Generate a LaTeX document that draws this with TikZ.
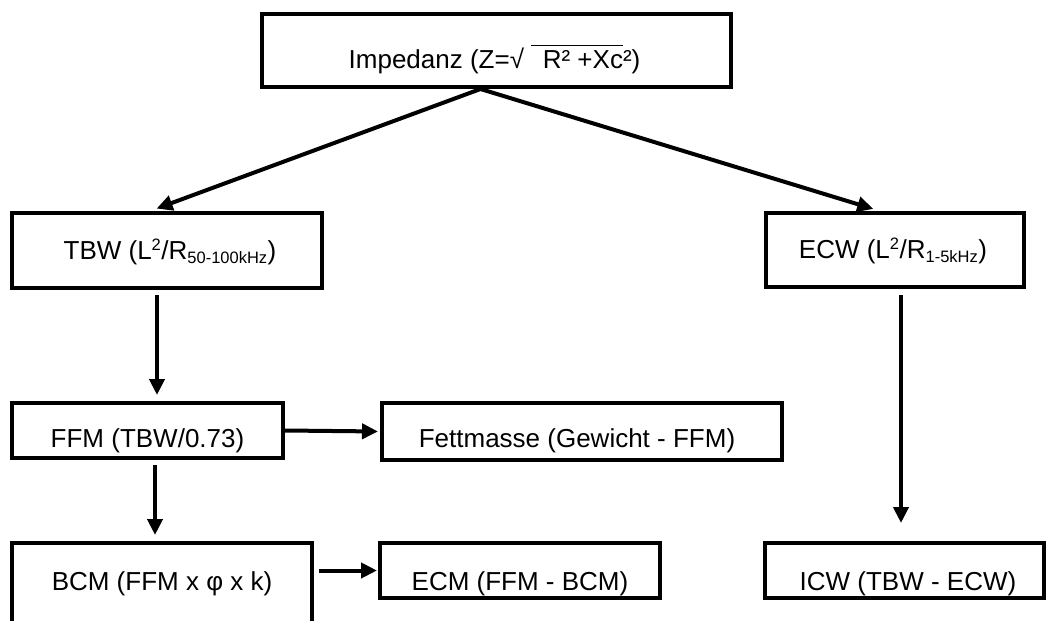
\documentclass[tikz,border=0pt]{standalone}
\usepackage{fontspec}
\setmainfont{Liberation Sans}
\usetikzlibrary{arrows.meta}

\newcommand{\wurzelstrich}[1]{\leavevmode\vbox{\hrule height 1.6pt\kern 4.5pt\hbox{#1}}}
\newcommand{\hoch}[1]{\textsuperscript{\fontsize{16.5}{18}\selectfont #1}}
\newcommand{\tief}[1]{\textsubscript{\fontsize{16.5}{18}\selectfont #1}}

\tikzset{
	box/.style={draw, line width=4pt, inner sep=0pt},
	txt/.style={font=\fontsize{26}{31}\selectfont},
	arr/.style={line width=4pt, -{Triangle[length=16pt,width=15pt]}},
}

\begin{document}
\begin{tikzpicture}[x=1pt, y=-1pt]
			\useasboundingbox (0,0) rectangle (1047,621);
			\clip (0,0) rectangle (1047,621);
			
			\node [box, minimum width=469pt, minimum height=73pt, label={[txt, xshift=-2pt, yshift=-9pt]center:{Impedanz (Z=√\ \wurzelstrich{\ \,R² +Xc}²)}}] (imp) at (496.5,50.5) {};
			
			\node [box, minimum width=310pt, minimum height=75pt, label={[txt, xshift=3pt, yshift=-1.5pt]center:{TBW (L\hoch{2}/R\tief{50-100kHz})}}] (tbw) at (167,250.5) {};
			\node [box, minimum width=258pt, minimum height=74pt, label={[txt, xshift=-2pt, yshift=-1pt]center:{ECW (L\hoch{2}/R\tief{1-5kHz})}}] (ecw) at (895,250) {};
			
			\node [box, minimum width=271pt, minimum height=55pt, label={[txt, yshift=-10.5pt]center:{FFM (TBW/0.73)}}] (ffm) at (147.5,430.5) {};
			\node [box, minimum width=400pt, minimum height=57pt, label={[txt, xshift=-5pt, yshift=-9.5pt]center:{Fettmasse (Gewicht - FFM)}}] (fett) at (582,431.5) {};
			
			\node [box, minimum width=300pt, minimum height=117pt, label={[txt, yshift=18pt]center:{BCM (FFM x φ x k)}}] (bcm) at (162,601.5) {};
			\node [box, minimum width=280pt, minimum height=55pt, label={[txt, yshift=-13pt]center:{ECM (FFM - BCM)}}] (ecm) at (520,570.5) {};
			\node [box, minimum width=279pt, minimum height=55pt, label={[txt, xshift=3.5pt, yshift=-13pt]center:{ICW (TBW - ECW)}}] (icw) at (904.5,570.5) {};
			
			\draw [arr, shorten >=7pt] ([xshift=-16pt]imp.south) -- ([xshift=-17pt]tbw.north);
			\draw [arr, shorten >=7pt] ([xshift=-16pt]imp.south) -- ([xshift=-15pt]ecw.north);
			
			\draw [arr, shorten <=5pt, shorten >=6pt] ([xshift=-10pt]tbw.south) -- ([xshift=-10pt]tbw.south |- ffm.north);
			\draw [arr, shorten >=2pt] (ffm.east) -- (fett.west);
			\draw [arr, shorten <=5pt, shorten >=6pt] ([xshift=7.5pt]ffm.south) -- ([xshift=7.5pt]ffm.south |- bcm.north);
			\draw [arr, shorten <=5pt, shorten >=1pt] (bcm.east |- ecm.west) -- (ecm.west);
			
			\draw [arr, shorten <=6pt, shorten >=18pt] ([xshift=6pt]ecw.south) -- ([xshift=-3.5pt]icw.north);
		\end{tikzpicture}
\end{document}
